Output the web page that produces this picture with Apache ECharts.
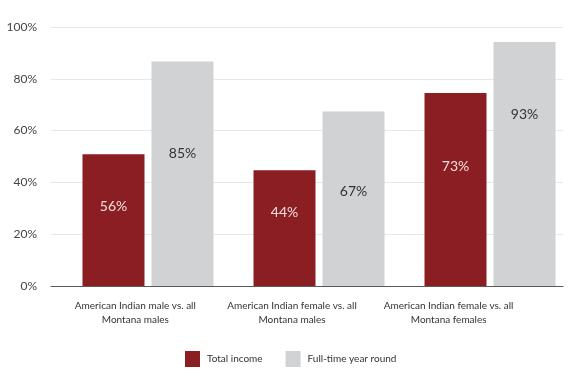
<!DOCTYPE html>
<html><head><meta charset="utf-8">
<script src="https://cdn.jsdelivr.net/npm/echarts@6/dist/echarts.min.js"></script>
<style>html,body{margin:0;padding:0;background:#fff}#c{width:570px;height:381px}</style>
</head><body><div id="c"></div>
<script>
const categories = [
  "American Indian male vs. all\nMontana males",
  "American Indian female vs. all\nMontana males",
  "American Indian female vs. all\nMontana females"
];
const seriesNames = ["Total income", "Full-time year round"];
const totalIncome = [50.9, 44.7, 74.5];
const fullTime = [86.7, 67.4, 94.2];
const totalIncomeLabels = ["56%", "44%", "73%"];
const fullTimeLabels = ["85%", "67%", "93%"];
const yTicks = [0, 20, 40, 60, 80, 100];

const FONT = "Lato";
const labelDist = { total: [52, 42, 73], full: [92, 80, 72] };

function mk(vals, labels, dists, color) {
  return vals.map((v, i) => ({
    value: v,
    label: {
      show: true, formatter: labels[i], position: ['50%', dists[i]],
      align: 'center', verticalAlign: 'middle',
      color: color, fontSize: 14, fontFamily: FONT
    }
  }));
}

const chart = echarts.init(document.getElementById('c'));
chart.setOption({
  animation: false,
  textStyle: { fontFamily: FONT },
  grid: [
    { left: 51, right: 7, top: 27, bottom: 95 },
    { left: 148, right: 80, top: 27, bottom: 95 },
    { left: 57, width: 470, top: 27, bottom: 95 }
  ],
  xAxis: [
    { gridIndex: 0, type: 'category', data: categories, z: 5,
      axisLine: { lineStyle: { color: '#5a5a5a', width: 1 } },
      axisTick: { show: false }, axisLabel: { show: false } },
    { gridIndex: 1, type: 'category', data: categories, boundaryGap: false, show: false },
    { gridIndex: 2, type: 'category', data: categories,
      axisLine: { show: false }, axisTick: { show: false },
      axisLabel: { color: '#333', fontSize: 10, lineHeight: 14, margin: 13, fontFamily: FONT, interval: 0 } }
  ],
  yAxis: [
    { gridIndex: 0, type: 'value', min: yTicks[0], max: yTicks[yTicks.length - 1], interval: 20,
      axisLine: { show: false }, axisTick: { show: false },
      axisLabel: { formatter: '{value}%', color: '#444', fontSize: 12, margin: 14, fontFamily: FONT },
      splitLine: { lineStyle: { color: '#e8e8e8', width: 1 } } },
    { gridIndex: 1, type: 'value', min: 0, max: 100, show: false, splitLine: { show: false } },
    { gridIndex: 2, type: 'value', min: 0, max: 100, show: false, splitLine: { show: false } }
  ],
  legend: {
    left: 180, top: 346, itemWidth: 15, itemHeight: 16, itemGap: 23,
    icon: 'rect',
    textStyle: { color: '#333', fontSize: 10, fontFamily: FONT, padding: [0, 0, 0, 2] },
    data: seriesNames
  },
  series: [
    { name: seriesNames[0], type: 'bar', xAxisIndex: 1, yAxisIndex: 1, clip: false,
      barWidth: 62, barGap: '11.3%', itemStyle: { color: '#8b1e22' },
      data: mk(totalIncome, totalIncomeLabels, labelDist.total, '#f3dede') },
    { name: seriesNames[1], type: 'bar', xAxisIndex: 1, yAxisIndex: 1, clip: false,
      barWidth: 62, barGap: '11.3%', itemStyle: { color: '#d1d2d4' },
      data: mk(fullTime, fullTimeLabels, labelDist.full, '#333') }
  ]
});
</script></body></html>
